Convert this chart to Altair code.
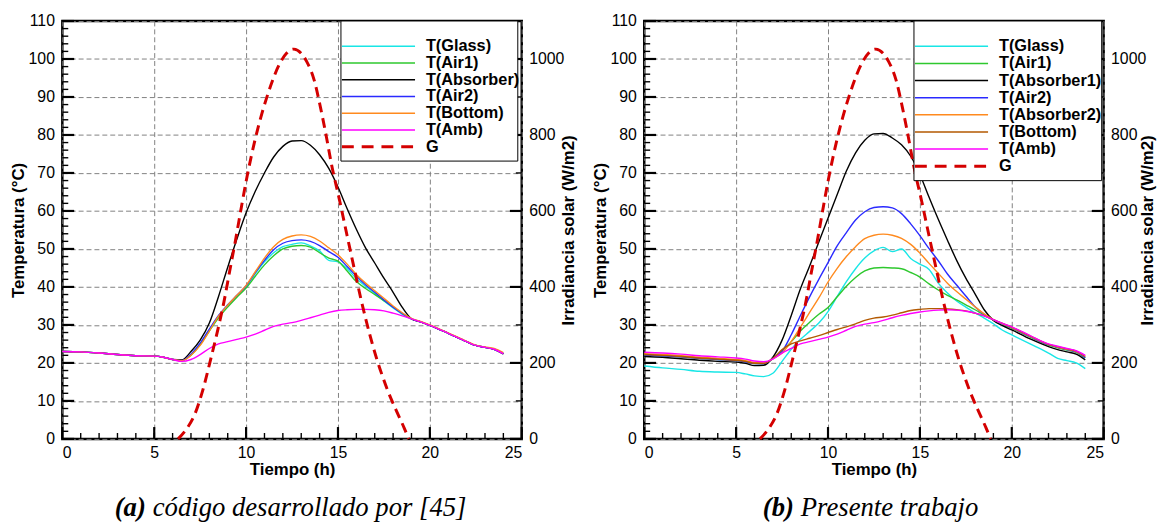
import altair as alt
import pandas as pd

# ---------------- data ----------------
time_grid = [0, 1, 2, 3, 4, 5, 5.5, 6, 6.5, 7, 7.5, 8, 8.5, 9, 9.5, 10, 10.5, 11, 11.5,
             12, 12.5, 13, 13.5, 14, 14.5, 15, 15.5, 16, 16.5, 17, 17.5, 18, 18.5, 19,
             19.5, 20, 21, 22, 22.5, 23, 23.5, 24]

# panel (a)
a_amb = [23.0, 22.9, 22.6, 22.2, 21.9, 21.8, 21.5, 20.9, 20.4, 20.9, 22.2, 23.8, 25.0, 25.6,
         26.2, 26.8, 27.6, 28.6, 29.6, 30.2, 30.6, 31.2, 31.9, 32.6, 33.3, 33.8, 34.0, 34.1,
         34.1, 34.0, 33.7, 33.1, 32.4, 31.6, 30.8, 29.9, 27.8, 25.6, 24.6, 24.1, 23.6, 22.4]
a_absorber = [23.0, 22.9, 22.6, 22.2, 21.9, 21.8, 21.5, 20.9, 20.8, 23.0, 26.0, 30.5, 37.5, 45.2,
              52.6, 59.5, 65.2, 70.0, 74.2, 77.0, 78.4, 78.5, 77.3, 74.8, 71.2, 66.3, 60.6, 55.2,
              50.3, 46.3, 42.3, 38.6, 34.6, 31.6, 30.8, 29.9, 27.8, 25.6, 24.6, 24.1, 23.6, 22.4]
a_bottom = [23.0, 22.9, 22.6, 22.2, 21.9, 21.8, 21.5, 20.9, 20.6, 22.0, 24.6, 28.4, 32.3, 35.2,
            37.8, 40.4, 44.0, 47.6, 50.6, 52.5, 53.4, 53.7, 53.3, 52.1, 50.3, 48.5, 46.0, 43.3,
            41.0, 39.0, 37.0, 35.0, 33.2, 31.7, 30.9, 30.0, 27.9, 25.7, 24.7, 24.2, 23.8, 22.7]
a_air2 = [23.0, 22.9, 22.6, 22.2, 21.9, 21.8, 21.5, 20.9, 20.6, 22.3, 25.2, 28.9, 32.5, 35.3,
          37.8, 40.3, 43.8, 47.0, 49.8, 51.5, 52.2, 52.4, 52.0, 50.9, 49.3, 47.8, 45.4, 42.9,
          40.6, 38.6, 36.6, 34.7, 33.0, 31.6, 30.8, 29.9, 27.8, 25.6, 24.6, 24.1, 23.6, 22.5]
a_glass = [23.0, 22.9, 22.6, 22.2, 21.9, 21.8, 21.5, 20.9, 20.6, 22.2, 25.0, 28.7, 32.2, 35.0,
           37.6, 40.0, 43.5, 46.6, 49.0, 50.6, 51.2, 51.6, 50.8, 49.5, 47.0, 46.6, 44.8, 42.2,
           40.2, 38.3, 36.3, 34.5, 32.8, 31.6, 30.8, 29.9, 27.8, 25.6, 24.6, 24.1, 23.6, 22.4]
a_air1 = [23.0, 22.9, 22.6, 22.2, 21.9, 21.8, 21.5, 20.9, 20.6, 22.0, 24.8, 28.4, 31.9, 34.7,
          37.3, 39.7, 42.8, 45.8, 48.2, 50.0, 50.7, 50.9, 50.5, 49.0, 47.6, 46.8, 44.2, 41.4,
          39.6, 38.0, 36.4, 34.8, 33.0, 31.6, 30.8, 29.9, 27.8, 25.6, 24.6, 24.1, 23.6, 22.4]

# panel (b)
b_amb = [22.8, 22.6, 22.3, 21.9, 21.6, 21.3, 21.0, 20.5, 20.3, 21.0, 22.6, 23.8, 25.0, 25.6,
         26.2, 26.8, 27.6, 28.6, 29.6, 30.2, 30.6, 31.2, 31.9, 32.5, 33.0, 33.4, 33.7, 33.9,
         34.0, 33.9, 33.6, 33.1, 32.4, 31.4, 30.4, 29.5, 27.2, 25.0, 24.4, 23.8, 23.2, 22.0]
b_absorber1 = [21.7, 21.5, 21.1, 20.7, 20.4, 20.2, 19.9, 19.3, 19.4, 21.5, 26.0, 32.5, 39.5, 45.5,
               51.8, 58.1, 64.3, 70.5, 75.3, 78.6, 80.3, 80.4, 79.2, 77.4, 74.4, 69.6, 63.6,
               57.8, 52.3, 47.0, 42.3, 38.2, 34.0, 31.2, 29.8, 28.7, 26.3, 24.3, 23.5, 22.9,
               22.3, 20.8]
b_air2 = [22.1, 21.9, 21.6, 21.2, 20.9, 20.6, 20.3, 19.8, 19.8, 21.2, 23.0, 27.4, 32.5, 37.4,
          42.0, 46.4, 50.8, 54.3, 57.6, 59.8, 60.9, 61.1, 60.8, 59.3, 56.6, 53.5, 50.1, 46.9,
          43.4, 40.5, 37.6, 34.8, 32.8, 31.3, 30.2, 29.2, 26.9, 24.8, 24.1, 23.5, 22.9, 21.4]
b_absorber2 = [22.4, 22.2, 21.9, 21.5, 21.2, 20.9, 20.6, 20.1, 20.0, 21.1, 22.6, 25.6, 29.4,
               33.3, 37.1, 41.3, 44.9, 48.0, 50.6, 52.7, 53.6, 53.9, 53.6, 52.8, 51.2, 48.9,
               46.2, 43.6, 41.0, 38.8, 36.8, 34.8, 32.9, 31.4, 30.3, 29.3, 27.0, 24.9, 24.2,
               23.6, 23.0, 21.7]
b_bottom = [22.2, 22.0, 21.7, 21.3, 21.0, 20.7, 20.4, 19.9, 19.9, 21.2, 23.5, 25.0, 25.8, 26.5,
            27.2, 28.0, 28.8, 29.5, 30.3, 31.2, 31.8, 32.1, 32.6, 33.2, 33.8, 34.1, 34.3, 34.3,
            34.2, 34.0, 33.7, 33.1, 32.4, 31.4, 30.4, 29.4, 27.1, 24.9, 24.3, 23.7, 23.1, 21.7]
b_air1 = [22.1, 21.9, 21.6, 21.2, 20.9, 20.6, 20.3, 19.8, 19.8, 21.1, 23.2, 25.6, 28.4, 30.7,
          32.8, 34.6, 37.4, 40.2, 42.5, 44.2, 45.0, 45.1, 45.0, 44.8, 43.8, 42.6, 40.8, 39.2,
          37.8, 36.6, 35.3, 34.0, 32.6, 31.3, 30.1, 29.1, 26.8, 24.7, 24.0, 23.4, 22.8, 21.3]
b_glass = [19.2, 18.7, 18.3, 17.8, 17.6, 17.5, 17.1, 16.6, 16.4, 17.3, 20.4, 23.6, 26.2, 28.3,
           30.5, 33.5, 37.5, 41.4, 44.8, 47.6, 49.5, 50.4, 49.3, 50.0, 47.5, 46.0, 44.6, 41.0,
           38.4, 36.3, 34.7, 33.2, 31.8, 30.3, 28.6, 27.4, 25.0, 22.6, 21.2, 20.6, 20.0, 18.5]

# solar irradiance (W/m2), same in both panels
g_time = [6.3, 6.8, 7.2, 7.6, 8.1, 8.45, 8.8, 9.1, 9.45, 9.75, 10.05, 10.5, 10.85, 11.1, 11.4,
          11.8, 12.2, 12.6, 13.0, 13.3, 13.7, 14.05, 14.35, 14.65, 15.1, 15.5, 15.9, 16.25,
          16.7, 17.1, 17.4, 17.7, 18.15, 18.6, 18.85]
g_vals = [0, 29, 64, 121, 215, 285, 362, 440, 530, 612, 690, 790, 855, 895, 938, 985, 1015,
          1026, 1015, 993, 945, 872, 800, 722, 625, 534, 445, 368, 280, 212, 168, 128, 77, 29, 0]

a_names = ["T(Glass)", "T(Air1)", "T(Absorber)", "T(Air2)", "T(Bottom)", "T(Amb)"]
a_colors = ["#19e6e6", "#2ec82e", "#000000", "#2a2aff", "#ff8a1e", "#ff00ff"]
a_series = [a_glass, a_air1, a_absorber, a_air2, a_bottom, a_amb]

b_names = ["T(Glass)", "T(Air1)", "T(Absorber1)", "T(Air2)", "T(Absorber2)", "T(Bottom)", "T(Amb)"]
b_colors = ["#19e6e6", "#2ec82e", "#000000", "#2a2aff", "#ff8a1e", "#b35900", "#ff00ff"]
b_series = [b_glass, b_air1, b_absorber1, b_air2, b_absorber2, b_bottom, b_amb]

# axis ticks
x_major = [0, 5, 10, 15, 20, 25]
x_minor = list(range(0, 26))
y_major = list(range(0, 111, 10))
y_minor = list(range(0, 111, 2))
g_major = [0, 200, 400, 600, 800, 1000]
g_minor = list(range(0, 1101, 100))

W, H = 465, 423
FONT = "Liberation Sans"
G_COLOR = "#d40000"
G_PER_T = 10
XU, YU = 25 / W, 110 / H


def tick_frame():
    rows = []

    def add(vals, kind, length, width, prefix, factor=1.0):
        for i, v in enumerate(vals):
            key = f"{prefix}{i}"
            v = float(v) / factor
            if kind == "bottom":
                pts = [(v, 0.0), (v, length)]
            elif kind == "left":
                pts = [(0.0, v), (length, v)]
            else:
                pts = [(25.0 - length, v), (25.0, v)]
            for j, (px, py) in enumerate(pts):
                rows.append({"px": px, "py": py, "key": key, "w": width, "o": j})

    add(x_minor, "bottom", 6 * YU, 1.4, "xm")
    add(x_major, "bottom", 12 * YU, 2.2, "xM")
    add(y_minor, "left", 6 * XU, 1.4, "ym")
    add(y_major, "left", 12 * XU, 2.2, "yM")
    add(g_minor, "right", 6 * XU, 1.4, "gm", G_PER_T)
    add(g_major, "right", 12 * XU, 2.2, "gM", G_PER_T)
    return pd.DataFrame(rows)


def curve_frame(names, colors, series):
    rows = []
    for n, c, s in zip(names, colors, series):
        for t, v in zip(time_grid, s):
            rows.append({"t": t, "T": v, "key": n, "col": c})
    return pd.DataFrame(rows)


def panel(names, colors, series, leg_x0, leg_w, caption_bold, caption_rest, cap_x, g_title_x):
    x_axis = alt.Axis(values=x_major, grid=True, gridDash=[5, 3], gridColor="#808080",
                      gridWidth=1, ticks=False, domain=False, labelFont=FONT,
                      labelFontSize=16, labelColor="black", labelPadding=6,
                      title="Tiempo (h)", titleFont=FONT, titleFontSize=17,
                      titleFontWeight="bold", titleColor="black", titleY=31,
                      titleX=W / 2, titleAlign="center", titleBaseline="middle")
    y_axis = alt.Axis(values=y_major, grid=True, gridDash=[5, 3], gridColor="#808080",
                      gridWidth=1, ticks=False, domain=False, labelFont=FONT,
                      labelFontSize=16, labelColor="black", labelPadding=8,
                      title="Temperatura (°C)", titleFont=FONT, titleFontSize=17,
                      titleFontWeight="bold", titleColor="black", titleX=-44,
                      titleY=H / 2, titleAngle=270, titleAlign="center",
                      titleBaseline="middle")
    g_axis = alt.Axis(values=g_major, format="d", orient="right", grid=False, ticks=False,
                      domain=False, labelFont=FONT, labelFontSize=16, labelColor="black",
                      labelPadding=7, title="Irradiancia solar (W/m2)", titleFont=FONT,
                      titleFontSize=17, titleFontWeight="bold", titleColor="black",
                      titleX=g_title_x, titleY=H / 2, titleAngle=270, titleAlign="center",
                      titleBaseline="middle")
    xs = alt.Scale(domain=[0, 25], nice=False, zero=False)
    ys = alt.Scale(domain=[0, 110], nice=False)
    gs = alt.Scale(domain=[0, 1100], nice=False)

    df = curve_frame(names, colors, series)
    lines = alt.Chart(df).mark_line(interpolate="monotone", strokeWidth=1.4).encode(
        x=alt.X("t:Q", scale=xs, axis=x_axis),
        y=alt.Y("T:Q", scale=ys, axis=y_axis),
        color=alt.Color("col:N", scale=None),
        detail="key:N",
    )
    ticks = alt.Chart(tick_frame()).mark_line(color="#000000", interpolate="linear").encode(
        x=alt.X("px:Q", scale=xs, axis=x_axis),
        y=alt.Y("py:Q", scale=ys, axis=None),
        strokeWidth=alt.StrokeWidth("w:Q", scale=None),
        order="o:Q",
        detail="key:N",
    )

    gdf = pd.DataFrame({"t": g_time, "G": g_vals})
    g_line = alt.Chart(gdf).mark_line(color=G_COLOR, strokeWidth=3, strokeDash=[10, 6],
                                      interpolate="monotone").encode(
        x=alt.X("t:Q", scale=xs, axis=x_axis),
        y=alt.Y("G:Q", scale=gs, axis=g_axis))

    # legend (drawn as marks)
    leg_names = names + ["G"]
    leg_colors = colors + [G_COLOR]
    n = len(leg_names)
    row_h = 19.8
    box_h = 17 + (n - 1) * row_h + 6
    leg_df = pd.DataFrame({"name": leg_names, "col": leg_colors,
                           "w": [1.5] * (n - 1) + [3.0]})
    leg_scale = alt.Scale(type="point", domain=leg_names, range=[17, 17 + (n - 1) * row_h])
    box = alt.Chart(pd.DataFrame({"k": [0]})).mark_rect(fill="white", stroke="black",
                                                        strokeWidth=1).encode(
        x=alt.value(leg_x0), x2=alt.value(leg_x0 + leg_w), y=alt.value(0), y2=alt.value(box_h))
    leg_lines = alt.Chart(leg_df[leg_df["name"] != "G"]).mark_rule().encode(
        y=alt.Y("name:N", scale=leg_scale, axis=None),
        x=alt.value(leg_x0 + 1), x2=alt.value(leg_x0 + 75),
        color=alt.Color("col:N", scale=None),
        strokeWidth=alt.StrokeWidth("w:Q", scale=None))
    leg_g = alt.Chart(leg_df[leg_df["name"] == "G"]).mark_rule(strokeDash=[12, 8]).encode(
        y=alt.Y("name:N", scale=leg_scale, axis=None),
        x=alt.value(leg_x0 + 1), x2=alt.value(leg_x0 + 75),
        color=alt.Color("col:N", scale=None),
        strokeWidth=alt.StrokeWidth("w:Q", scale=None))
    leg_text = alt.Chart(leg_df).mark_text(align="left", baseline="middle", font=FONT,
                                           fontSize=16.5, fontWeight="bold", color="black").encode(
        y=alt.Y("name:N", scale=leg_scale, axis=None),
        x=alt.value(leg_x0 + 86), text="name:N")
    cap1 = alt.Chart(pd.DataFrame({"k": [0]})).mark_text(
        text=caption_bold, font="Liberation Serif", fontSize=27, fontStyle="italic",
        fontWeight="bold", align="right", baseline="middle", color="black").encode(
        x=alt.value(cap_x), y=alt.value(H + 70))
    cap2 = alt.Chart(pd.DataFrame({"k": [0]})).mark_text(
        text=caption_rest, font="Liberation Serif", fontSize=27, fontStyle="italic",
        align="left", baseline="middle", color="black").encode(
        x=alt.value(cap_x + 7), y=alt.value(H + 70))
    leg_group = alt.layer(box, leg_lines, leg_g, leg_text, cap1, cap2)

    return alt.layer(ticks, lines, g_line, leg_group).resolve_scale(
        y="independent", color="independent", strokeWidth="independent"
    ).properties(width=W, height=H)


left = panel(a_names, a_colors, a_series, 282, 179, "(a)", "código desarrollado por [45]",
             84.5, 47)
right = panel(b_names, b_colors, b_series, 273, 190, "(b)", "Presente trabajo", 151.5, 44)

chart = alt.hconcat(left, right, spacing=12).configure_view(
    stroke="black", strokeWidth=2.5
).properties(padding={"left": 0, "top": 0, "right": 0, "bottom": 0})

chart.save("out.html", embed_options={"renderer": "svg", "actions": False})
